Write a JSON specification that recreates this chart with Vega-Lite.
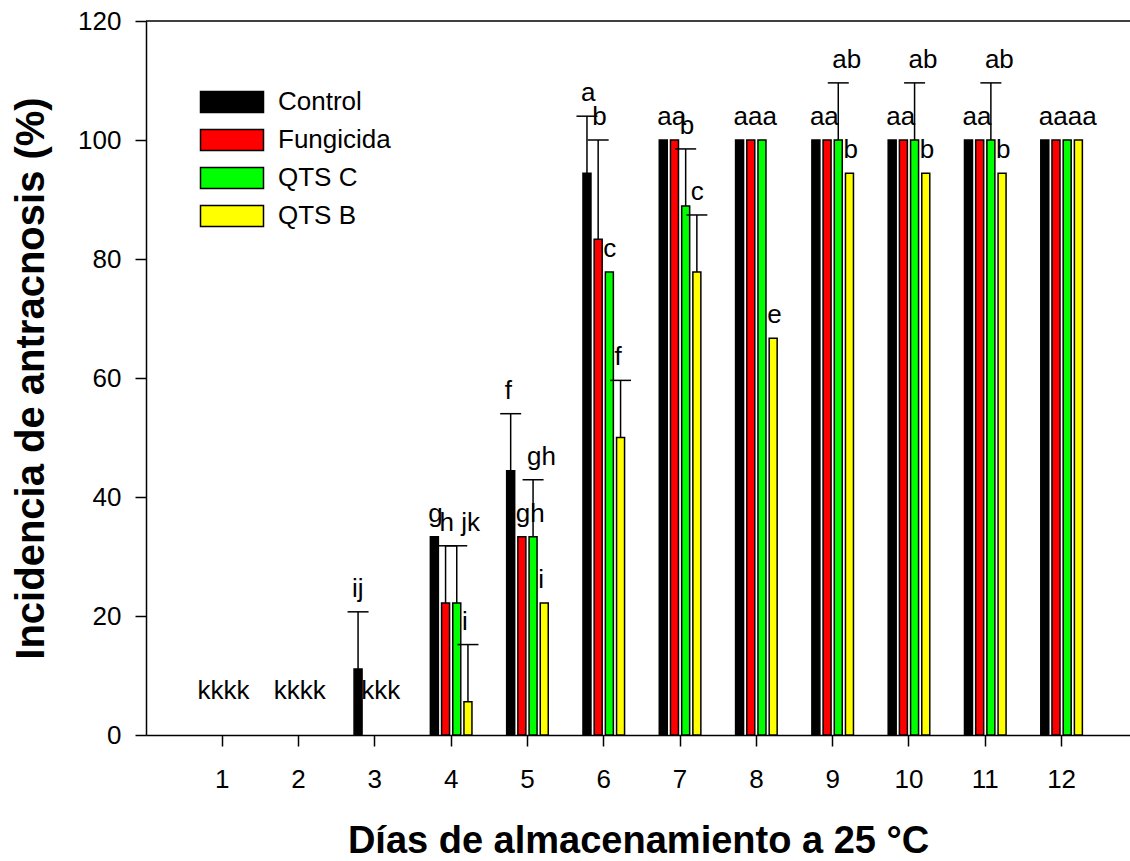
{
  "$schema": "https://vega.github.io/schema/vega-lite/v6.json",
  "width": 984,
  "height": 714,
  "autosize": {"type": "none"},
  "padding": {"left": 146, "top": 21, "right": 0, "bottom": 126},
  "background": "white",
  "config": {
    "view": {"stroke": null},
    "font": "Liberation Sans",
    "axis": {
      "grid": false,
      "domainColor": "black",
      "domainWidth": 1.5,
      "tickColor": "black",
      "tickWidth": 1.5,
      "tickSize": 11,
      "labelColor": "black",
      "labelFont": "Liberation Sans",
      "labelFontSize": 26,
      "titleColor": "black",
      "titleFont": "Liberation Sans",
      "titleFontWeight": "bold"
    },
    "axisY": {"labelPadding": 14, "titlePadding": 26, "titleFontSize": 40},
    "axisX": {"labelPadding": 20, "titlePadding": 30, "titleFontSize": 38, "labelAngle": 0},
    "legend": {
      "orient": "none",
      "legendX": 73,
      "legendY": 68,
      "padding": 0,
      "title": null,
      "symbolType": "M-3,-1H3V1H-3Z",
      "symbolSize": 441,
      "symbolStrokeColor": "black",
      "symbolStrokeWidth": 1.5,
      "symbolOpacity": 1,
      "labelFont": "Liberation Sans",
      "labelFontSize": 26,
      "labelColor": "black",
      "labelOffset": 33,
      "rowPadding": 10
    }
  },
  "data": {
    "values": [
      {"dia": 1, "tratamiento": "Control", "media": 0, "sup": 0, "letras": "kkkk"},
      {"dia": 1, "tratamiento": "Fungicida", "media": 0, "sup": 0, "letras": ""},
      {"dia": 1, "tratamiento": "QTS C", "media": 0, "sup": 0, "letras": ""},
      {"dia": 1, "tratamiento": "QTS B", "media": 0, "sup": 0, "letras": ""},
      {"dia": 2, "tratamiento": "Control", "media": 0, "sup": 0, "letras": "kkkk"},
      {"dia": 2, "tratamiento": "Fungicida", "media": 0, "sup": 0, "letras": ""},
      {"dia": 2, "tratamiento": "QTS C", "media": 0, "sup": 0, "letras": ""},
      {"dia": 2, "tratamiento": "QTS B", "media": 0, "sup": 0, "letras": ""},
      {"dia": 3, "tratamiento": "Control", "media": 11.1, "sup": 20.7, "letras": "ij"},
      {"dia": 3, "tratamiento": "Fungicida", "media": 0, "sup": 0, "letras": "kkk"},
      {"dia": 3, "tratamiento": "QTS C", "media": 0, "sup": 0, "letras": ""},
      {"dia": 3, "tratamiento": "QTS B", "media": 0, "sup": 0, "letras": ""},
      {"dia": 4, "tratamiento": "Control", "media": 33.3, "sup": 33.3, "letras": "g"},
      {"dia": 4, "tratamiento": "Fungicida", "media": 22.2, "sup": 31.8, "letras": "h jk"},
      {"dia": 4, "tratamiento": "QTS C", "media": 22.2, "sup": 31.8, "letras": ""},
      {"dia": 4, "tratamiento": "QTS B", "media": 5.6, "sup": 15.2, "letras": "i"},
      {"dia": 5, "tratamiento": "Control", "media": 44.4, "sup": 54.0, "letras": "f"},
      {"dia": 5, "tratamiento": "Fungicida", "media": 33.3, "sup": 33.3, "letras": "gh"},
      {"dia": 5, "tratamiento": "QTS C", "media": 33.3, "sup": 42.9, "letras": "gh"},
      {"dia": 5, "tratamiento": "QTS B", "media": 22.2, "sup": 22.2, "letras": "i"},
      {"dia": 6, "tratamiento": "Control", "media": 94.4, "sup": 104.0, "letras": "a"},
      {"dia": 6, "tratamiento": "Fungicida", "media": 83.3, "sup": 100.0, "letras": "b"},
      {"dia": 6, "tratamiento": "QTS C", "media": 77.8, "sup": 77.8, "letras": "c"},
      {"dia": 6, "tratamiento": "QTS B", "media": 50.0, "sup": 59.6, "letras": "f"},
      {"dia": 7, "tratamiento": "Control", "media": 100, "sup": 100, "letras": "aa"},
      {"dia": 7, "tratamiento": "Fungicida", "media": 100, "sup": 100, "letras": ""},
      {"dia": 7, "tratamiento": "QTS C", "media": 88.9, "sup": 98.5, "letras": "b"},
      {"dia": 7, "tratamiento": "QTS B", "media": 77.8, "sup": 87.4, "letras": "c"},
      {"dia": 8, "tratamiento": "Control", "media": 100, "sup": 100, "letras": "aaa"},
      {"dia": 8, "tratamiento": "Fungicida", "media": 100, "sup": 100, "letras": ""},
      {"dia": 8, "tratamiento": "QTS C", "media": 100, "sup": 100, "letras": ""},
      {"dia": 8, "tratamiento": "QTS B", "media": 66.7, "sup": 66.7, "letras": "e"},
      {"dia": 9, "tratamiento": "Control", "media": 100, "sup": 100, "letras": "aa"},
      {"dia": 9, "tratamiento": "Fungicida", "media": 100, "sup": 100, "letras": ""},
      {"dia": 9, "tratamiento": "QTS C", "media": 100, "sup": 109.6, "letras": "ab"},
      {"dia": 9, "tratamiento": "QTS B", "media": 94.4, "sup": 94.4, "letras": "b"},
      {"dia": 10, "tratamiento": "Control", "media": 100, "sup": 100, "letras": "aa"},
      {"dia": 10, "tratamiento": "Fungicida", "media": 100, "sup": 100, "letras": ""},
      {"dia": 10, "tratamiento": "QTS C", "media": 100, "sup": 109.6, "letras": "ab"},
      {"dia": 10, "tratamiento": "QTS B", "media": 94.4, "sup": 94.4, "letras": "b"},
      {"dia": 11, "tratamiento": "Control", "media": 100, "sup": 100, "letras": "aa"},
      {"dia": 11, "tratamiento": "Fungicida", "media": 100, "sup": 100, "letras": ""},
      {"dia": 11, "tratamiento": "QTS C", "media": 100, "sup": 109.6, "letras": "ab"},
      {"dia": 11, "tratamiento": "QTS B", "media": 94.4, "sup": 94.4, "letras": "b"},
      {"dia": 12, "tratamiento": "Control", "media": 100, "sup": 100, "letras": "aaaa"},
      {"dia": 12, "tratamiento": "Fungicida", "media": 100, "sup": 100, "letras": ""},
      {"dia": 12, "tratamiento": "QTS C", "media": 100, "sup": 100, "letras": ""},
      {"dia": 12, "tratamiento": "QTS B", "media": 100, "sup": 100, "letras": ""}
    ]
  },
  "layer": [
    {
      "data": {"values": [{}]},
      "mark": {"type": "rule", "color": "black", "strokeWidth": 1.5},
      "encoding": {
        "y": {"datum": 120, "type": "quantitative", "scale": {"domain": [0, 120]}, "title": "Incidencia de antracnosis (%)"}
      }
    },
    {
      "transform": [{"filter": "datum.media > 0"}],
      "mark": {"type": "bar", "stroke": "black", "strokeWidth": 1.5, "opacity": 1},
      "encoding": {
        "x": {
          "field": "dia",
          "type": "ordinal",
          "title": "Días de almacenamiento a 25 °C",
          "scale": {"type": "band", "domain": [1, 2, 3, 4, 5, 6, 7, 8, 9, 10, 11, 12], "paddingInner": 0.455, "paddingOuter": 0.6755, "align": 0.538}
        },
        "xOffset": {
          "field": "tratamiento",
          "type": "nominal",
          "sort": ["Control", "Fungicida", "QTS C", "QTS B"],
          "scale": {"domain": ["Control", "Fungicida", "QTS C", "QTS B"], "paddingInner": 0.286, "paddingOuter": 0}
        },
        "y": {
          "field": "media",
          "type": "quantitative",
          "title": "Incidencia de antracnosis (%)",
          "scale": {"domain": [0, 120]},
          "axis": {"values": [0, 20, 40, 60, 80, 100, 120]}
        },
        "color": {
          "field": "tratamiento",
          "type": "nominal",
          "sort": ["Control", "Fungicida", "QTS C", "QTS B"],
          "scale": {"domain": ["Control", "Fungicida", "QTS C", "QTS B"], "range": ["#000000", "#ff0000", "#00ff00", "#ffff00"]}
        }
      }
    },
    {
      "transform": [{"filter": "datum.sup > datum.media"}],
      "mark": {"type": "rule", "color": "black", "strokeWidth": 1.5},
      "encoding": {
        "x": {"field": "dia", "type": "ordinal", "title": "Días de almacenamiento a 25 °C"},
        "xOffset": {"field": "tratamiento", "type": "nominal", "sort": ["Control", "Fungicida", "QTS C", "QTS B"]},
        "y": {"field": "media", "type": "quantitative", "title": "Incidencia de antracnosis (%)"},
        "y2": {"field": "sup"}
      }
    },
    {
      "transform": [{"filter": "datum.sup > datum.media"}],
      "mark": {"type": "tick", "color": "black", "size": 21, "thickness": 1.5, "opacity": 1},
      "encoding": {
        "x": {"field": "dia", "type": "ordinal", "title": "Días de almacenamiento a 25 °C"},
        "xOffset": {"field": "tratamiento", "type": "nominal", "sort": ["Control", "Fungicida", "QTS C", "QTS B"]},
        "y": {"field": "sup", "type": "quantitative", "title": "Incidencia de antracnosis (%)"}
      }
    },
    {
      "transform": [{"filter": "datum.letras != '' && datum.sup > 0"}],
      "mark": {"type": "text", "align": "left", "baseline": "alphabetic", "dx": -6, "dy": -15, "fontSize": 26, "font": "Liberation Sans", "color": "black"},
      "encoding": {
        "x": {"field": "dia", "type": "ordinal", "title": "Días de almacenamiento a 25 °C"},
        "xOffset": {"field": "tratamiento", "type": "nominal", "sort": ["Control", "Fungicida", "QTS C", "QTS B"]},
        "y": {"field": "sup", "type": "quantitative", "title": "Incidencia de antracnosis (%)"},
        "text": {"field": "letras"}
      }
    },
    {
      "transform": [{"filter": "datum.letras != '' && datum.sup == 0"}],
      "mark": {"type": "text", "align": "left", "baseline": "alphabetic", "dx": -8, "dy": -36, "fontSize": 26, "font": "Liberation Sans", "color": "black"},
      "encoding": {
        "x": {"field": "dia", "type": "ordinal", "title": "Días de almacenamiento a 25 °C"},
        "xOffset": {"field": "tratamiento", "type": "nominal", "sort": ["Control", "Fungicida", "QTS C", "QTS B"]},
        "y": {"field": "sup", "type": "quantitative", "title": "Incidencia de antracnosis (%)"},
        "text": {"field": "letras"}
      }
    }
  ]
}
